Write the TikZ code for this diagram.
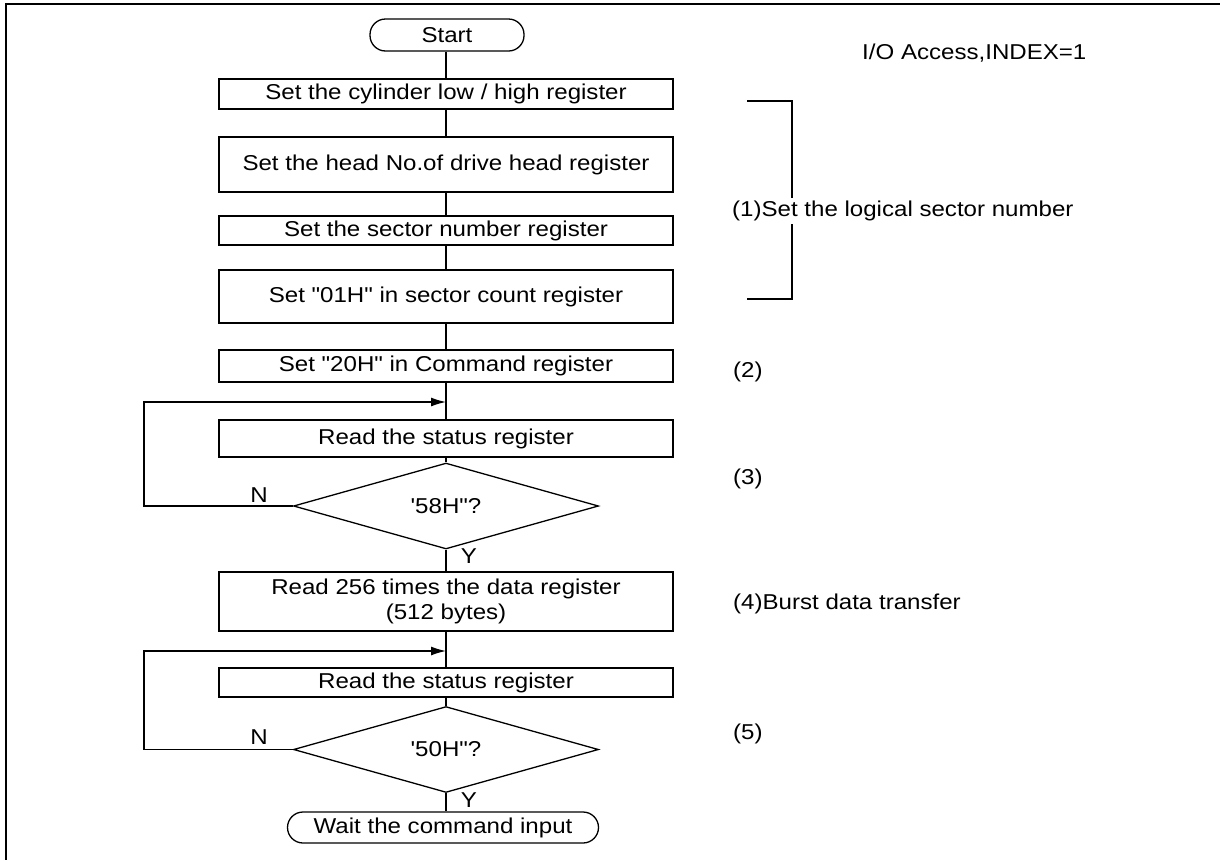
\documentclass[tikz,border=0pt]{standalone}
\usepackage{fontspec}
\newfontfamily\arialx{Liberation Sans}[FakeStretch=1.12]
\usetikzlibrary{shapes.geometric,arrows.meta}
\begin{document}
\begin{tikzpicture}[x=1pt,y=-1pt,
  every node/.style={font=\arialx\fontsize{21.5pt}{25pt}\selectfont},
  line/.style={line width=1.3pt},
  proc/.style={draw,line width=1.3pt,minimum width=454pt,inner sep=0pt,align=center},
  term/.style={draw,line width=1.3pt,rounded corners=15.5pt,inner sep=0pt},
  dec/.style={draw,diamond,line width=1.3pt,minimum width=305pt,minimum height=56pt,inner sep=0pt},
  lbl/.style={anchor=west,inner sep=0pt}]
\useasboundingbox (0,0) rectangle (1220,860);
% frame
\draw[line] (1220,4) -- (6,4) -- (6,860);
% nodes
\node[term,minimum width=154pt,minimum height=32pt] (start) at (447,35) {Start};
\node[proc,minimum height=30pt] (b1) at (446,94) {Set the cylinder low / high register};
\node[proc,minimum height=55pt] (b2) at (446,164.5) {Set the head No.of drive head register};
\node[proc,minimum height=29pt] (b3) at (446,230.5) {Set the sector number register};
\node[proc,minimum height=53pt] (b4) at (446,296.5) {Set "01H" in sector count register};
\node[proc,minimum height=32pt] (b5) at (446,366) {Set "20H" in Command register};
\node[proc,minimum height=37pt] (b6) at (446,438.5) {Read the status register};
\node[dec] (d1) at (446,506) {'58H"?};
\node[proc,minimum height=59pt] (b7) at (446,601.5) {Read 256 times the data register\\(512 bytes)};
\node[proc,minimum height=29pt] (b8) at (446,682.5) {Read the status register};
\node[dec] (d2) at (446,749.5) {'50H"?};
\node[term,minimum width=311pt,minimum height=31pt] (end) at (443,827.5) {Wait the command input};
% junctions
\coordinate (j1) at (446,402);
\coordinate (j2) at (446,651);
\coordinate (l1) at (144,506);
\coordinate (l2) at (144,749.5);
% connectors
\draw[line] (start.south -| b1.north) -- (b1);
\draw[line] (b1) -- (b2);
\draw[line] (b2) -- (b3);
\draw[line] (b3) -- (b4);
\draw[line] (b4) -- (b5);
\draw[line] (b5) -- (b6);
\draw[line] (b6) -- (d1);
\draw[line] (d1) -- (b7);
\draw[line] (b7) -- (b8);
\draw[line] (b8) -- (d2);
\draw[line] (d2.south) -- (end.north -| d2.south);
\draw[line,-{Latex[length=15pt,width=9pt]}] (d1.west) -- (l1) -- (144,402) -- (j1);
\draw[line,-{Latex[length=15pt,width=9pt]}] (d2.west) -- (l2) -- (144,651) -- (j2);
% labels
\node (n1) at (259,495) {N};
\node (y1) at (469,556) {Y};
\node (n2) at (259,737) {N};
\node (y2) at (469,800) {Y};
% bracket
\coordinate (br1) at (747,101);
\coordinate (br2) at (792,101);
\coordinate (br3) at (792,299);
\coordinate (br4) at (747,299);
\draw[line] (br1) -- (br2) -- (br3) -- (br4);
\node[lbl,fill=white,inner ysep=3pt,inner xsep=0pt] (c1) at (732,211) {(1)Set the logical sector number};
\node[lbl] (io) at (862,53) {I/O Access,INDEX=1};
\node[lbl] (c2) at (733,372) {(2)};
\node[lbl] (c3) at (733,479) {(3)};
\node[lbl] (c4) at (733,604) {(4)Burst data transfer};
\node[lbl] (c5) at (733,734) {(5)};
\end{tikzpicture}
\end{document}
